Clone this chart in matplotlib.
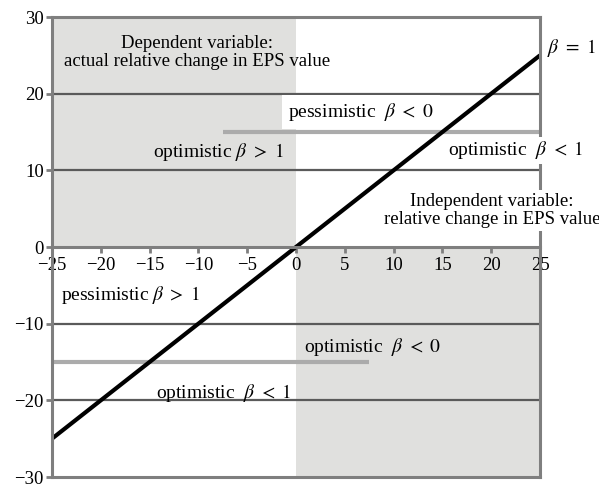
import matplotlib
matplotlib.use("Agg")
import matplotlib.pyplot as plt

plt.rcParams['font.family'] = ['Liberation Serif', 'DejaVu Serif']
plt.rcParams['mathtext.fontset'] = 'stix'
plt.rcParams['axes.unicode_minus'] = True

# data
x_ticks = [-25, -20, -15, -10, -5, 0, 5, 10, 15, 20, 25]
y_ticks = [-30, -20, -10, 0, 10, 20, 30]
beta1_x = [-25, 25]
beta1_y = [-25, 25]
grid_levels = [-20, -10, 10, 20]
upper_sep_x = [-7.5, 25]
upper_sep_y = [15, 15]
lower_sep_x = [-25, 7.5]
lower_sep_y = [-15, -15]

spine_c = '#7f7f7f'
grid_c = '#5a5a5a'
shade_c = '#e0e0de'
sep_c = '#ababab'

fig = plt.figure(figsize=(5.99, 4.87), dpi=100)
ax = fig.add_axes([52/599, 1 - 477/487, (540-52)/599, (477-17)/487])
ax.set_xlim(-25, 25)
ax.set_ylim(-30, 30)

# shaded quadrants
ax.fill_between([-25, 0], 0, 30, color=shade_c, lw=0, zorder=0)
ax.fill_between([0, 25], -30, 0, color=shade_c, lw=0, zorder=0)

for g in grid_levels:
    ax.axhline(g, color=grid_c, lw=1.6, zorder=1)

ax.plot(upper_sep_x, upper_sep_y, color=sep_c, lw=3, zorder=1.5, solid_capstyle='butt')
ax.plot(lower_sep_x, lower_sep_y, color=sep_c, lw=3, zorder=1.5, solid_capstyle='butt')

ax.plot(beta1_x, beta1_y, color='black', lw=3, zorder=2, solid_capstyle='butt')

# spines
for s in ['left', 'right', 'top', 'bottom']:
    ax.spines[s].set_color(spine_c)
    ax.spines[s].set_linewidth(2.2)
ax.spines['bottom'].set_position(('data', 0))
ax.axhline(-30, color=spine_c, lw=2.2, zorder=2.5, clip_on=False)

ax.set_xticks(x_ticks)
ax.set_yticks(y_ticks)
ax.set_xticklabels([str(v).replace('-', '\u2212') for v in x_ticks])
ax.set_yticklabels([str(v).replace('-', '\u2212') for v in y_ticks])
ax.tick_params(axis='both', direction='out', length=4, width=2, color=spine_c,
               labelsize=13.5, pad=2)
ax.tick_params(axis='x', pad=3)

fs = 14
fs2 = 13.5
ax.text(-10.1, 25.4, 'Dependent variable:\nactual relative change in EPS value',
        ha='center', va='center', fontsize=fs2, linespacing=1.05, zorder=4)
ax.text(25.7, 26, r'$\beta\ =\ 1$', ha='left', va='center', fontsize=fs, zorder=4)
ax.text(-0.8, 17.6, r'pessimistic  $\beta\ <\ 0$', ha='left', va='center', fontsize=fs,
        zorder=4, bbox=dict(facecolor='white', edgecolor='none', pad=5, boxstyle='square,pad=0.3'))
ax.text(-14.65, 12.4, r'optimistic $\beta\ >\ 1$', ha='left', va='center', fontsize=fs, zorder=4)
ax.text(15.6, 12.6, r'optimistic  $\beta\ <\ 1$', ha='left', va='center', fontsize=fs,
        zorder=4, bbox=dict(facecolor='white', edgecolor='none', pad=2),
        clip_on=False)
ax.text(20.1, 4.8, 'Independent variable:\nrelative change in EPS value',
        ha='center', va='center', fontsize=fs2, linespacing=1.1, zorder=4,
        bbox=dict(facecolor='white', edgecolor='none', pad=2))
ax.text(-24.1, -6.25, r'pessimistic $\beta\ >\ 1$', ha='left', va='center', fontsize=fs, zorder=4)
ax.text(0.8, -13.1, r'optimistic  $\beta\ <\ 0$', ha='left', va='center', fontsize=fs, zorder=4)
ax.text(-14.35, -19.1, r'optimistic  $\beta\ <\ 1$', ha='left', va='center', fontsize=fs, zorder=4)

fig.savefig('out.png', dpi=100)
